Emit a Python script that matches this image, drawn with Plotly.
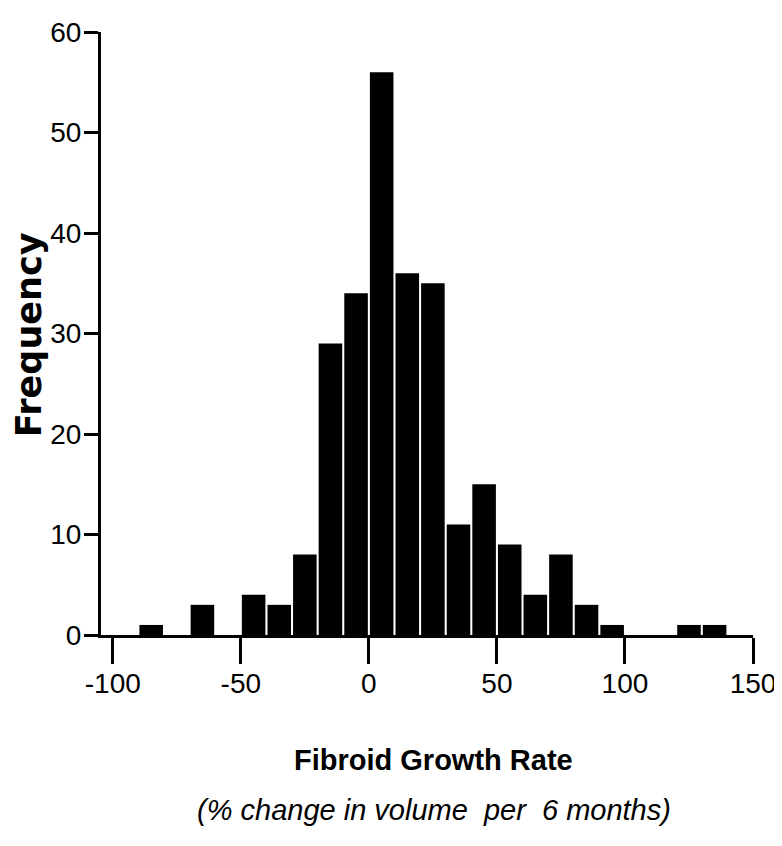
import plotly.graph_objects as go

# Histogram bins (bin centres, width 10) and frequencies
bin_centers = [-95, -85, -75, -65, -55, -45, -35, -25, -15, -5, 5, 15,
               25, 35, 45, 55, 65, 75, 85, 95, 105, 115, 125, 135]
frequency = [0, 1, 0, 3, 0, 4, 3, 8, 29, 34, 56, 36,
             35, 11, 15, 9, 4, 8, 3, 1, 0, 0, 1, 1]

x_ticks = [-100, -50, 0, 50, 100, 150]
y_ticks = [0, 10, 20, 30, 40, 50, 60]

x_title = "Fibroid Growth Rate"
x_subtitle = "(% change in volume  per  6 months)"
y_title = "Frequency"

SANS = "Liberation Sans, Arial, sans-serif"

fig = go.Figure()
fig.add_trace(go.Bar(
    x=bin_centers,
    y=frequency,
    marker=dict(color="black", line=dict(width=0)),
    showlegend=False,
))

# the page body has an 8 px default margin, so the figure is sized to fit
fig.update_layout(
    width=774,
    height=838,
    margin=dict(l=93, r=29, t=24, b=211, pad=0),
    paper_bgcolor="white",
    plot_bgcolor="white",
    bargap=0.08,
    xaxis=dict(
        range=[-104.6, 150],
        tickvals=x_ticks,
        ticktext=[str(v) for v in x_ticks],
        showgrid=False,
        zeroline=False,
        showline=True,
        linecolor="black",
        linewidth=3,
        ticks="outside",
        ticklen=26,
        tickwidth=2.5,
        tickcolor="black",
        tickfont=dict(family=SANS, size=28, color="black"),
        ticklabelstandoff=-5,
        automargin=False,
    ),
    yaxis=dict(
        range=[0, 60],
        tickvals=y_ticks,
        showgrid=False,
        zeroline=False,
        showline=True,
        linecolor="black",
        linewidth=3,
        ticks="outside",
        ticklen=14,
        tickwidth=2.5,
        tickcolor="black",
        tickfont=dict(family=SANS, size=28, color="black"),
        ticklabelstandoff=-3,
        automargin=False,
    ),
    annotations=[
        dict(text="<b>" + x_title + "</b>", xref="paper", yref="paper",
             x=0.51, y=-0.2072, xanchor="center", yanchor="middle",
             showarrow=False,
             font=dict(family=SANS, size=29, color="black")),
        dict(text="<i>" + x_subtitle + "</i>", xref="paper", yref="paper",
             x=0.51, y=-0.290, xanchor="center", yanchor="middle",
             showarrow=False,
             font=dict(family=SANS, size=29, color="black")),
        dict(text="<b>" + y_title + "</b>", xref="paper", yref="paper",
             x=-0.1104, y=0.497, xanchor="center", yanchor="middle",
             textangle=-90, showarrow=False,
             font=dict(family="DejaVu Sans, Liberation Sans, sans-serif", size=35, color="black")),
    ],
)

fig.write_html("out.html")
